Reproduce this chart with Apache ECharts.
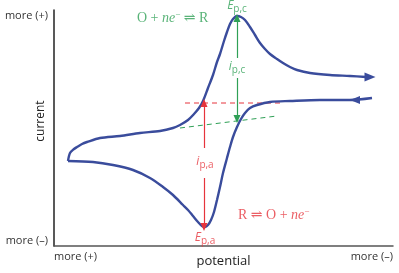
<!DOCTYPE html>
<html><head><meta charset="utf-8">
<script src="https://cdn.jsdelivr.net/npm/echarts@6/dist/echarts.min.js"></script>
<style>html,body{margin:0;padding:0;background:#fff}#c{width:399px;height:273px}</style>
</head><body><div id="c"></div>
<script>
// schematic cyclic voltammogram, arbitrary units (potential left = more +, current up = more +)
const forwardScan = [[14,85],[16,93],[20,97],[23,99],[28,102],[33,104],[46,108],[66,110],[86,113],[106,115],[119,118],[126,121],[134,126],[140,132],[145,138],[149,145],[154,158],[159,171],[163,184],[166,192],[170,205],[173,214],[176,222],[179,227],[183,230],[187,229],[191,226],[196,219],[201,211],[206,203],[211,197],[216,192],[223,187],[229,183],[236,179],[243,176],[256,173],[276,171],[296,170],[312,169]];
const reverseScan = [[318,148],[296,146],[266,146],[236,145],[216,144],[203,141],[196,138],[191,133],[187,127],[183,119],[179,109],[176,99],[173,88],[169,73],[166,59],[163,46],[160,34],[157,26],[154,21],[151,19],[148,20],[144,24],[139,30],[134,36],[129,41],[119,51],[109,59],[96,68],[79,76],[59,81],[39,84],[14,85]];
const redBaseline = [[131,143],[226,143]];
const greenBaseline = [[126,118],[223,130]];
const cathodicPeak = [183,228];   // E_p,c / top of i_p,c
const cathodicBase = [183,127];
const anodicPeak = [150,19];
const anodicBase = [150,143];
const forwardArrow = [316,169];
const reverseArrow = [301,146];
const xTickLabels = ['more (+)','more (–)'];
const yTickLabels = ['more (–)','more (+)'];
const xRange = [0,339];
const yRange = [0,236];

const BLUE = '#3a4c9c', GREEN = '#2fa056', RED = '#e6343c';
const SANS = 'Open Sans, Lato, DejaVu Sans, sans-serif';
const SERIF = 'Liberation Serif, DejaVu Serif, serif';

function sub(color){
  return {
    e:{fontFamily:SANS,fontStyle:'italic',fontSize:12,color:color},
    i:{fontFamily:SANS,fontStyle:'italic',fontSize:12,color:color},
    s:{fontFamily:SANS,fontSize:10,color:color,padding:[6,0,0,0]}
  };
}
function eqRich(color){
  return {
    t:{fontFamily:SERIF,fontSize:14,color:color},
    n:{fontFamily:SERIF,fontStyle:'italic',fontSize:14,color:color},
    p:{fontFamily:SERIF,fontSize:9,color:color,padding:[0,0,7,0]}
  };
}

const labels = [
  {value:[183,240], label:{formatter:'{e|E}{s|p,c}', rich:sub(GREEN)}},
  {value:[183,179], label:{formatter:'{i|i}{s|p,c}', rich:sub(GREEN)}},
  {value:[151,84], label:{formatter:'{i|i}{s|p,a}', rich:sub(RED)}},
  {value:[151,8], label:{formatter:'{e|E}{s|p,a}', rich:sub(RED)}},
  {value:[83,228], label:{align:'left',formatter:'{t|O + }{n|ne}{p|−}{t| ⇌ R}', rich:eqRich(GREEN)}},
  {value:[184,31], label:{align:'left',formatter:'{t|R ⇌ O + }{n|ne}{p|−}', rich:eqRich(RED)}}
];

const chart = echarts.init(document.getElementById('c'), null, {renderer:'canvas'});
chart.setOption({
  animation:false,
  backgroundColor:'#fff',
  grid:{left:54,right:6,top:10,bottom:27,containLabel:false,outerBoundsMode:'none'},
  xAxis:{type:'value',min:xRange[0],max:xRange[1],interval:xRange[1],
    name:'potential',nameLocation:'middle',nameGap:9,nameMoveOverlap:false,
    nameTextStyle:{fontFamily:SANS,fontSize:13,color:'#222',fontWeight:500},
    axisLine:{lineStyle:{color:'#555',width:1.5}},axisTick:{show:false},splitLine:{show:false},
    axisLabel:{margin:5,fontFamily:SANS,fontSize:11,color:'#333',alignMinLabel:'left',alignMaxLabel:'right',
      formatter:v=> v===xRange[0]?xTickLabels[0]:xTickLabels[1]}},
  yAxis:{type:'value',min:yRange[0],max:yRange[1],interval:yRange[1],
    name:'current',nameLocation:'middle',nameGap:7,nameRotate:90,nameMoveOverlap:false,
    nameTextStyle:{fontFamily:SANS,fontSize:12,color:'#222',padding:[0,0,0,14]},
    axisLine:{show:true,lineStyle:{color:'#222',width:1.5}},axisTick:{show:false},splitLine:{show:false},
    axisLabel:{margin:6,fontFamily:SANS,fontSize:11,color:'#333',verticalAlignMinLabel:'bottom',verticalAlignMaxLabel:'top',
      formatter:v=> v===yRange[0]?yTickLabels[0]:yTickLabels[1]}},
  series:[
    {type:'line',data:redBaseline,symbol:'none',silent:true,lineStyle:{color:RED,width:1,type:[5,4]},
     markLine:{silent:true,symbol:['none','triangle'],symbolSize:[7,8],label:{show:false},lineStyle:{color:RED,width:1.2,type:'solid'},
       data:[[{coord:[anodicBase[0],98]},{coord:anodicBase}],[{coord:[anodicPeak[0],68]},{coord:anodicPeak}]]}},
    {type:'line',data:greenBaseline,symbol:'none',silent:true,lineStyle:{color:GREEN,width:1,type:[5,4]},
     markLine:{silent:true,symbol:['none','triangle'],symbolSize:[7,8],label:{show:false},lineStyle:{color:GREEN,width:1.2,type:'solid'},
       data:[[{coord:[cathodicPeak[0],188]},{coord:cathodicPeak}],[{coord:[cathodicBase[0],168]},{coord:cathodicBase}]]}},
    {type:'line',data:forwardScan,symbol:'none',smooth:0.3,silent:true,lineStyle:{color:BLUE,width:2.4},
     markPoint:{silent:true,data:[{coord:forwardArrow,symbol:'triangle',symbolSize:[9,11],symbolRotate:-90,itemStyle:{color:BLUE},label:{show:false}}]}},
    {type:'line',data:reverseScan,symbol:'none',smooth:0.3,silent:true,lineStyle:{color:BLUE,width:2.4},
     markPoint:{silent:true,data:[{coord:reverseArrow,symbol:'triangle',symbolSize:[8,10],symbolRotate:90,itemStyle:{color:BLUE},label:{show:false}}]}},
    {type:'scatter',data:labels,symbolSize:0,clip:false,silent:true,label:{show:true,position:'inside'}}
  ]
});
</script></body></html>
